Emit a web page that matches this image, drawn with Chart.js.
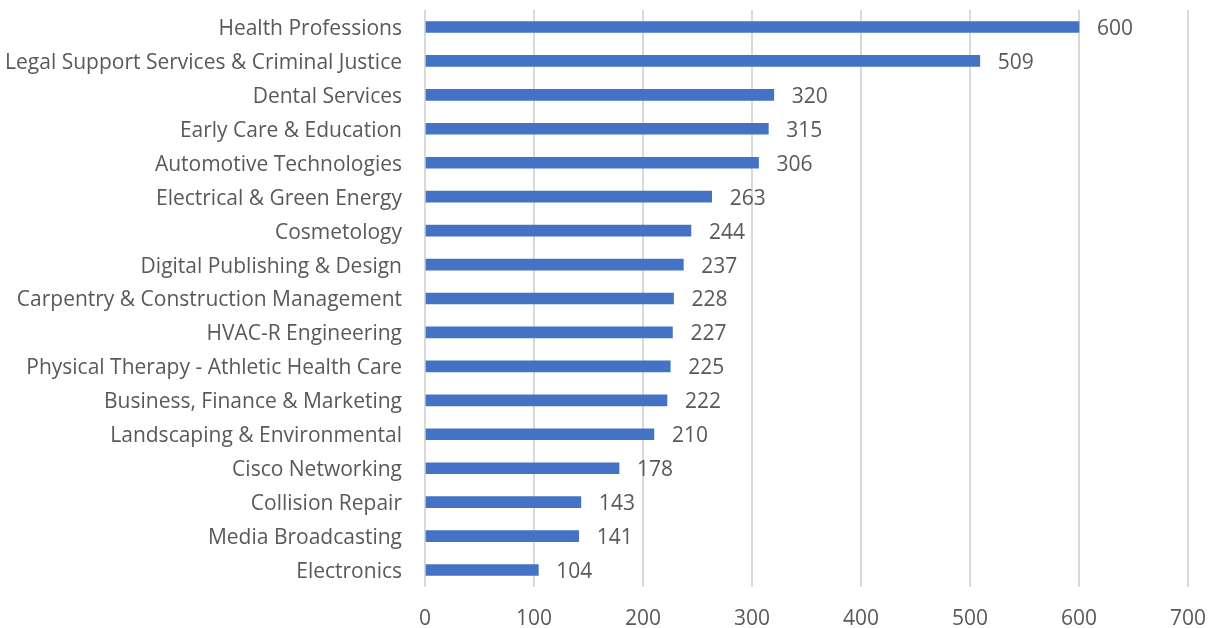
<!DOCTYPE html>
<html>
<head>
<meta charset="utf-8">
<script src="https://cdn.jsdelivr.net/npm/chart.js@4/dist/chart.umd.min.js"></script>
<style>
  html, body { margin: 0; padding: 0; background: #fff; }
  #wrap { width: 1214px; height: 628px; }
</style>
</head>
<body>
<div id="wrap"><canvas id="chart" width="1214" height="628"></canvas></div>
<script>
// programas y cantidad de estudiantes
const programs = [
  'Health Professions',
  'Legal Support Services & Criminal Justice',
  'Dental Services',
  'Early Care & Education',
  'Automotive Technologies',
  'Electrical & Green Energy',
  'Cosmetology',
  'Digital Publishing & Design',
  'Carpentry & Construction Management',
  'HVAC-R Engineering',
  'Physical Therapy - Athletic Health Care',
  'Business, Finance & Marketing',
  'Landscaping & Environmental',
  'Cisco Networking',
  'Collision Repair',
  'Media Broadcasting',
  'Electronics'
];
const students = [600, 509, 320, 315, 306, 263, 244, 237, 228, 227, 225, 222, 210, 178, 143, 141, 104];
const xTicks = [0, 100, 200, 300, 400, 500, 600, 700];

const FONT = '"Open Sans", sans-serif';
const GRAY = '#595959';

// etiquetas de valor al final de cada barra
const valueLabels = {
  id: 'valueLabels',
  afterDatasetsDraw(chart) {
    const ctx = chart.ctx;
    const meta = chart.getDatasetMeta(0);
    ctx.save();
    ctx.font = '21px ' + FONT;
    ctx.fillStyle = GRAY;
    ctx.textAlign = 'left';
    ctx.textBaseline = 'middle';
    meta.data.forEach((bar, i) => {
      ctx.fillText(String(students[i]), bar.x + 18, bar.y + 2);
    });
    ctx.restore();
  }
};

const ctx = document.getElementById('chart').getContext('2d');

new Chart(ctx, {
  type: 'bar',
  data: {
    labels: programs,
    datasets: [{
      data: students,
      backgroundColor: '#4472C4',
      barThickness: 11
    }]
  },
  plugins: [valueLabels],
  options: {
    indexAxis: 'y',
    responsive: false,
    animation: false,
    layout: { padding: { top: 10, right: 26, bottom: 0, left: 0 } },
    plugins: {
      legend: { display: false },
      tooltip: { enabled: false }
    },
    scales: {
      x: {
        min: 0,
        max: 700,
        afterBuildTicks(scale) {
          scale.ticks = xTicks.map(v => ({ value: v }));
        },
        afterFit(scale) {
          scale.height = 41;
          scale.paddingLeft = 0;
          scale.paddingRight = 0;
        },
        grid: { color: '#d9d9d9', lineWidth: 2, drawTicks: false },
        border: { display: false },
        ticks: {
          padding: 19,
          color: GRAY,
          font: { family: FONT, size: 21 }
        }
      },
      y: {
        afterFit(scale) {
          scale.width = 425;
          scale.paddingTop = 0;
          scale.paddingBottom = 0;
        },
        grid: { display: false, drawTicks: false },
        border: { display: false },
        ticks: {
          padding: 23,
          labelOffset: 2,
          color: GRAY,
          autoSkip: false,
          font: { family: FONT, size: 21 }
        }
      }
    }
  }
});
</script>
</body>
</html>
